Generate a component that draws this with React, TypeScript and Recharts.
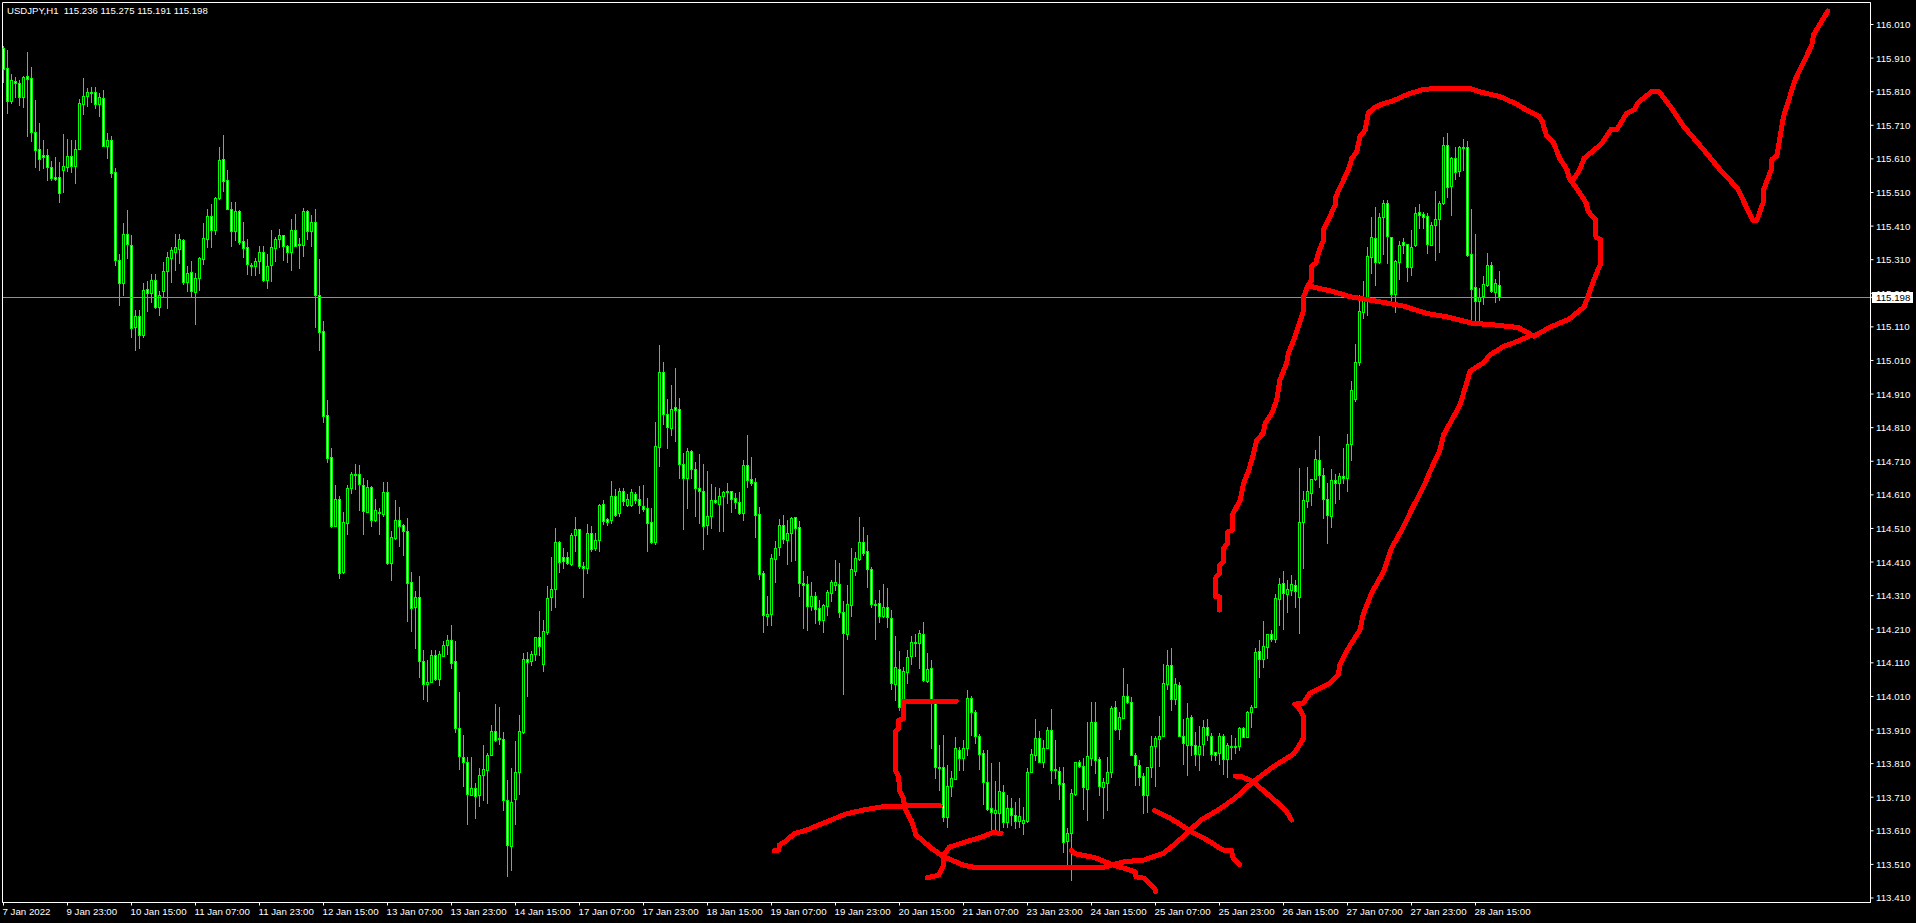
import React from "react";
import { ComposedChart, XAxis, YAxis, Bar, Line, ReferenceLine, ReferenceArea } from "recharts";

const symbolTitle = "USDJPY,H1  115.236 115.275 115.191 115.198";
const lastPrice = 115.198;

const opens = [
115.939,115.880,115.782,115.841,115.835,115.795,115.857,115.850,115.689,115.639,
115.621,115.621,115.585,115.555,115.555,115.578,115.587,115.618,115.590,115.639,
115.774,115.798,115.808,115.808,115.774,115.790,115.649,115.665,115.570,115.310,
115.241,115.386,115.353,115.109,115.143,115.086,115.222,115.212,115.249,115.168,
115.218,115.275,115.316,115.334,115.343,115.369,115.245,115.274,115.215,115.254,
115.313,115.373,115.439,115.397,115.495,115.609,115.546,115.462,115.394,115.454,
115.365,115.347,115.294,115.292,115.307,115.332,115.250,115.295,115.346,115.372,
115.383,115.352,115.334,115.398,115.356,115.354,115.454,115.394,115.423,115.204,
115.097,114.847,114.724,114.517,114.597,114.380,114.525,114.629,114.671,114.671,
114.638,114.560,114.632,114.536,114.560,114.552,114.618,114.406,114.483,114.534,
114.519,114.501,114.350,114.276,114.305,114.114,114.048,114.054,114.132,114.062,
114.131,114.163,114.177,114.114,113.917,113.831,113.816,113.718,113.738,113.717,
113.777,113.791,113.837,113.906,113.885,113.882,113.702,113.566,113.705,113.786,
113.903,114.121,114.114,114.135,114.186,114.107,114.203,114.306,114.329,114.469,
114.424,114.424,114.404,114.489,114.508,114.397,114.393,114.495,114.452,114.475,
114.583,114.539,114.535,114.606,114.555,114.620,114.580,114.580,114.612,114.598,
114.576,114.571,114.528,114.470,114.752,114.975,114.852,114.810,114.871,114.867,
114.703,114.661,114.742,114.686,114.629,114.620,114.520,114.546,114.595,114.584,
114.607,114.620,114.620,114.600,114.589,114.555,114.698,114.657,114.647,114.552,
114.377,114.248,114.256,114.420,114.454,114.519,114.476,114.496,114.543,114.513,
114.347,114.344,114.280,114.308,114.272,114.236,114.280,114.319,114.342,114.344,
114.260,114.197,114.283,114.384,114.419,114.469,114.442,114.388,114.284,114.287,
114.250,114.275,114.243,114.048,114.093,113.980,114.084,114.129,114.171,114.170,
114.195,114.057,114.094,113.990,113.799,113.799,113.650,113.744,113.765,113.851,
113.828,113.856,114.004,113.963,113.892,113.841,113.756,113.677,113.664,113.664,
113.726,113.637,113.677,113.657,113.639,113.632,113.640,113.786,113.837,113.887,
113.816,113.857,113.909,113.793,113.787,113.751,113.581,113.602,113.719,113.814,
113.802,113.735,113.828,113.933,113.824,113.739,113.753,113.786,113.978,113.914,
113.947,114.011,113.992,113.837,113.805,113.773,113.718,113.799,113.862,113.882,
113.893,114.048,114.103,114.003,114.043,113.893,113.866,113.948,113.866,113.838,
113.868,113.918,113.893,113.844,113.841,113.891,113.823,113.861,113.862,113.863,
113.917,113.890,113.965,113.980,114.145,114.122,114.158,114.195,114.181,114.301,
114.349,114.316,114.327,114.343,114.307,114.530,114.592,114.616,114.656,114.715,
114.669,114.599,114.548,114.654,114.646,114.665,114.659,114.760,114.894,115.005,
115.155,115.200,115.319,115.374,115.304,115.438,115.478,115.377,115.209,115.304,
115.362,115.357,115.289,115.353,115.451,115.445,115.439,115.354,115.414,115.430,
115.478,115.650,115.530,115.612,115.574,115.644,115.644,115.326,115.228,115.188,
115.203,115.235,115.293,115.215,115.236];

const closes = [
115.878,115.783,115.845,115.835,115.795,115.853,115.849,115.691,115.635,115.609,
115.615,115.585,115.554,115.551,115.508,115.588,115.618,115.590,115.639,115.775,
115.798,115.808,115.807,115.774,115.793,115.649,115.665,115.569,115.308,115.240,
115.386,115.356,115.108,115.143,115.086,115.219,115.212,115.249,115.170,115.204,
115.276,115.317,115.338,115.347,115.371,115.244,115.270,115.218,115.255,115.314,
115.374,115.439,115.399,115.493,115.606,115.545,115.462,115.394,115.454,115.364,
115.346,115.296,115.292,115.306,115.332,115.249,115.290,115.347,115.372,115.383,
115.352,115.334,115.398,115.352,115.355,115.454,115.394,115.423,115.205,115.096,
114.844,114.721,114.517,114.597,114.378,114.528,114.629,114.671,114.669,114.641,
114.563,114.632,114.536,114.564,114.557,114.618,114.406,114.484,114.534,114.517,
114.501,114.349,114.274,114.305,114.116,114.048,114.054,114.132,114.061,114.135,
114.164,114.177,114.110,113.917,113.833,113.816,113.720,113.736,113.714,113.777,
113.793,113.835,113.906,113.880,113.882,113.702,113.568,113.695,113.786,113.906,
114.121,114.112,114.135,114.186,114.161,114.206,114.304,114.329,114.469,114.409,
114.412,114.406,114.489,114.508,114.397,114.393,114.495,114.449,114.475,114.579,
114.533,114.529,114.607,114.550,114.621,114.591,114.597,114.618,114.596,114.580,
114.568,114.527,114.470,114.754,114.975,114.852,114.813,114.867,114.864,114.703,
114.659,114.742,114.686,114.629,114.620,114.518,114.547,114.595,114.588,114.607,
114.619,114.619,114.599,114.589,114.555,114.698,114.653,114.644,114.551,114.373,
114.251,114.255,114.421,114.451,114.519,114.478,114.496,114.540,114.512,114.347,
114.343,114.280,114.308,114.271,114.236,114.281,114.320,114.350,114.350,114.262,
114.200,114.284,114.388,114.421,114.469,114.437,114.390,114.285,114.282,114.248,
114.275,114.245,114.051,114.097,113.980,114.085,114.127,114.171,114.170,114.198,
114.059,114.091,113.990,113.799,113.798,113.652,113.743,113.766,113.856,113.828,
113.856,114.004,113.965,113.893,113.839,113.756,113.674,113.667,113.671,113.728,
113.637,113.677,113.658,113.639,113.654,113.643,113.784,113.838,113.887,113.816,
113.857,113.909,113.792,113.791,113.750,113.578,113.603,113.722,113.814,113.804,
113.739,113.832,113.933,113.821,113.742,113.754,113.784,113.975,113.912,113.948,
114.011,113.992,113.837,113.805,113.771,113.718,113.799,113.861,113.886,113.893,
114.049,114.103,114.001,114.046,113.893,113.872,113.947,113.865,113.838,113.863,
113.918,113.896,113.840,113.837,113.891,113.823,113.865,113.859,113.859,113.917,
113.890,113.963,113.980,114.141,114.122,114.160,114.195,114.182,114.302,114.346,
114.319,114.331,114.346,114.325,114.528,114.594,114.620,114.656,114.718,114.670,
114.598,114.549,114.653,114.646,114.665,114.661,114.760,114.922,115.005,115.156,
115.200,115.321,115.377,115.302,115.436,115.478,115.379,115.209,115.306,115.354,
115.355,115.289,115.347,115.448,115.442,115.438,115.356,115.412,115.430,115.478,
115.650,115.527,115.612,115.572,115.644,115.641,115.324,115.224,115.186,115.200,
115.237,115.293,115.216,115.240,115.198];

const highs = [
115.946,115.934,115.863,115.853,115.845,115.857,115.928,115.883,115.785,115.716,
115.666,115.640,115.603,115.615,115.600,115.683,115.669,115.666,115.666,115.787,
115.850,115.821,115.823,115.823,115.807,115.815,115.686,115.678,115.582,115.327,
115.418,115.458,115.383,115.160,115.160,115.240,115.247,115.268,115.267,115.217,
115.303,115.334,115.349,115.387,115.387,115.371,115.291,115.306,115.270,115.319,
115.418,115.460,115.476,115.498,115.645,115.681,115.577,115.483,115.483,115.458,
115.422,115.371,115.301,115.314,115.351,115.351,115.327,115.399,115.377,115.400,
115.384,115.354,115.431,115.446,115.376,115.463,115.458,115.443,115.460,115.311,
115.128,114.892,114.749,114.638,114.606,114.560,114.638,114.678,114.701,114.698,
114.661,114.653,114.635,114.598,114.572,114.648,114.648,114.503,114.595,114.573,
114.524,114.540,114.381,114.323,114.367,114.148,114.117,114.149,114.148,114.146,
114.175,114.192,114.224,114.175,114.023,113.894,113.831,113.831,113.751,113.797,
113.865,113.843,113.926,113.986,113.980,113.903,113.760,113.797,113.877,113.955,
114.138,114.143,114.144,114.188,114.264,114.238,114.338,114.424,114.510,114.472,
114.452,114.441,114.495,114.544,114.509,114.409,114.524,114.518,114.495,114.583,
114.595,114.541,114.650,114.627,114.630,114.630,114.613,114.627,114.619,114.635,
114.638,114.600,114.570,114.827,115.056,115.005,114.896,114.936,114.987,114.898,
114.736,114.749,114.744,114.707,114.732,114.701,114.681,114.642,114.632,114.629,
114.621,114.644,114.621,114.615,114.618,114.713,114.787,114.722,114.659,114.573,
114.383,114.309,114.433,114.473,114.538,114.550,114.535,114.543,114.545,114.532,
114.383,114.369,114.351,114.321,114.297,114.284,114.327,114.357,114.416,114.406,
114.294,114.342,114.453,114.440,114.543,114.513,114.491,114.394,114.297,114.327,
114.345,114.333,114.267,114.190,114.145,114.097,114.148,114.190,114.196,114.208,
114.232,114.138,114.119,113.995,113.865,113.895,113.806,113.788,113.888,113.859,
113.880,114.029,114.011,113.970,113.898,113.851,113.851,113.811,113.758,113.814,
113.746,113.717,113.707,113.695,113.707,113.682,113.796,113.853,113.942,113.907,
113.880,113.920,113.972,113.880,113.801,113.799,113.617,113.733,113.816,113.821,
113.826,113.933,113.993,113.994,113.831,113.766,113.829,113.982,113.996,113.965,
114.094,114.047,114.009,113.843,113.821,113.781,113.801,113.892,113.892,113.952,
114.107,114.148,114.153,114.064,114.054,113.943,113.990,113.955,113.905,113.922,
113.940,113.942,113.900,113.846,113.900,113.897,113.870,113.895,113.885,113.918,
113.920,113.968,113.985,114.153,114.178,114.234,114.195,114.208,114.314,114.363,
114.382,114.358,114.371,114.356,114.689,114.621,114.694,114.656,114.743,114.785,
114.689,114.646,114.687,114.672,114.674,114.748,114.791,114.950,115.059,115.205,
115.247,115.347,115.438,115.468,115.450,115.488,115.488,115.377,115.309,115.366,
115.374,115.357,115.398,115.466,115.475,115.453,115.448,115.423,115.514,115.485,
115.674,115.686,115.615,115.646,115.648,115.669,115.663,115.461,115.385,115.225,
115.262,115.329,115.302,115.253,115.275];

const lows = [
115.840,115.748,115.777,115.795,115.771,115.763,115.678,115.663,115.587,115.577,
115.582,115.547,115.547,115.547,115.483,115.510,115.574,115.572,115.539,115.638,
115.744,115.766,115.780,115.761,115.739,115.648,115.614,115.557,115.294,115.175,
115.205,115.314,115.081,115.041,115.046,115.081,115.157,115.185,115.165,115.146,
115.200,115.167,115.245,115.280,115.299,115.238,115.218,115.198,115.119,115.220,
115.297,115.349,115.349,115.387,115.490,115.513,115.460,115.351,115.369,115.357,
115.319,115.268,115.265,115.265,115.270,115.248,115.227,115.248,115.307,115.349,
115.309,115.302,115.280,115.351,115.286,115.321,115.371,115.351,115.111,115.041,
114.827,114.709,114.515,114.516,114.363,114.377,114.492,114.615,114.627,114.564,
114.492,114.558,114.518,114.533,114.492,114.547,114.405,114.358,114.480,114.457,
114.430,114.234,114.206,114.155,114.068,114.002,113.995,114.052,114.060,114.045,
114.129,114.137,114.094,113.903,113.795,113.743,113.631,113.717,113.648,113.685,
113.703,113.693,113.835,113.877,113.869,113.673,113.476,113.493,113.631,113.719,
113.902,114.012,114.105,114.117,114.132,114.086,114.197,114.268,114.276,114.381,
114.392,114.404,114.400,114.444,114.392,114.306,114.377,114.444,114.447,114.444,
114.524,114.520,114.526,114.547,114.547,114.581,114.578,114.578,114.587,114.556,
114.562,114.444,114.467,114.465,114.695,114.821,114.749,114.787,114.770,114.661,
114.507,114.572,114.661,114.547,114.526,114.449,114.492,114.512,114.587,114.503,
114.503,114.587,114.560,114.570,114.552,114.535,114.633,114.638,114.484,114.361,
114.203,114.223,114.223,114.352,114.431,114.468,114.404,114.414,114.416,114.309,
114.214,114.208,114.267,114.228,114.226,114.203,114.253,114.295,114.327,114.245,
114.017,114.181,114.250,114.370,114.416,114.431,114.335,114.277,114.181,114.233,
114.246,114.218,114.032,113.998,113.970,113.970,114.049,114.107,114.129,114.096,
114.056,114.054,113.855,113.766,113.732,113.640,113.622,113.714,113.764,113.791,
113.791,113.836,113.895,113.870,113.794,113.690,113.672,113.603,113.608,113.610,
113.622,113.622,113.627,113.619,113.622,113.601,113.637,113.784,113.821,113.815,
113.801,113.856,113.753,113.766,113.705,113.548,113.508,113.464,113.717,113.801,
113.675,113.642,113.806,113.781,113.717,113.649,113.672,113.771,113.910,113.883,
113.945,113.990,113.836,113.745,113.746,113.664,113.667,113.771,113.742,113.804,
113.892,114.032,113.970,113.988,113.892,113.809,113.776,113.836,113.806,113.791,
113.836,113.880,113.821,113.821,113.808,113.779,113.771,113.824,113.841,113.851,
113.888,113.888,113.918,113.978,114.069,114.098,114.125,114.176,114.173,114.222,
114.210,114.262,114.312,114.277,114.198,114.393,114.575,114.580,114.654,114.632,
114.542,114.467,114.515,114.586,114.599,114.644,114.622,114.715,114.889,114.997,
115.135,115.145,115.271,115.234,115.301,115.327,115.301,115.180,115.155,115.253,
115.329,115.247,115.265,115.351,115.405,115.403,115.331,115.353,115.309,115.334,
115.476,115.496,115.443,115.550,115.559,115.577,115.322,115.131,115.126,115.126,
115.177,115.233,115.213,115.185,115.191];

const timeLabels = ["7 Jan 2022","9 Jan 23:00","10 Jan 15:00","11 Jan 07:00","11 Jan 23:00","12 Jan 15:00","13 Jan 07:00","13 Jan 23:00","14 Jan 15:00","17 Jan 07:00","17 Jan 23:00","18 Jan 15:00","19 Jan 07:00","19 Jan 23:00","20 Jan 15:00","21 Jan 07:00","23 Jan 23:00","24 Jan 15:00","25 Jan 07:00","25 Jan 23:00","26 Jan 15:00","27 Jan 07:00","27 Jan 23:00","28 Jan 15:00"];
const barsPerLabel = 16;

const priceTicks = [116.01,115.91,115.81,115.71,115.61,115.51,115.41,115.31,115.21,115.11,115.01,114.91,114.81,114.71,114.61,114.51,114.41,114.31,114.21,114.11,114.01,113.91,113.81,113.71,113.61,113.51,113.41];

// Hand-drawn annotations: [bar position, price]
const smileLeftArm = [[192.7,113.551],[193.8,113.553],[194.0,113.568],[195.8,113.581],[197.6,113.601],[200.7,113.612],[205.2,113.634],[210.6,113.660],[215.0,113.672],[219.5,113.681],[224.9,113.684],[234.2,113.684]];
const channelLower = [[238.2,113.996],[224.9,113.996],[225.0,113.945],[223.8,113.938],[223.8,113.915],[222.9,113.905],[222.9,113.791],[223.8,113.771],[224.0,113.731],[225.0,113.707],[225.3,113.677],[227.1,113.637],[228.1,113.598],[232.0,113.558],[234.7,113.535],[237.4,113.521],[240.0,113.508],[242.7,113.501],[274.9,113.501],[280.2,113.518],[285.1,113.523],[290.0,113.543],[293.1,113.573],[296.7,113.612],[299.1,113.640],[303.9,113.674],[307.9,113.707],[312.4,113.756],[317.7,113.803],[322.6,113.839],[325.0,113.885],[325.0,113.950],[323.9,113.975],[322.8,113.987],[324.9,113.990],[326.6,114.019],[329.1,114.034],[331.6,114.049],[333.7,114.074],[334.1,114.104],[336.2,114.153],[339.1,114.208],[340.0,114.257],[342.0,114.317],[345.0,114.381],[347.0,114.451],[350.0,114.515],[352.0,114.565],[355.4,114.644],[356.6,114.679],[359.1,114.743],[360.0,114.788],[364.1,114.877],[365.8,114.943],[366.6,114.977],[368.3,114.991],[369.9,115.002],[371.6,115.026],[374.9,115.051],[378.3,115.066],[381.6,115.083],[383.1,115.086]];
const bigCircle = [[304.0,114.267],[304.0,114.306],[303.0,114.307],[303.0,114.362],[304.0,114.376],[304.1,114.401],[305.0,114.411],[305.0,114.451],[306.1,114.466],[306.1,114.500],[307.2,114.505],[307.2,114.550],[309.2,114.595],[310.0,114.644],[311.2,114.679],[312.1,114.714],[313.3,114.773],[314.9,114.793],[315.4,114.823],[317.1,114.853],[318.3,114.892],[319.1,114.952],[320.8,115.002],[321.2,115.031],[322.9,115.081],[324.0,115.121],[324.9,115.155],[324.9,115.195],[326.0,115.230],[327.1,115.250],[327.1,115.292],[328.1,115.299],[328.7,115.329],[330.0,115.369],[330.1,115.403],[331.6,115.438],[332.9,115.473],[333.1,115.498],[335.0,115.547],[336.2,115.577],[337.1,115.612],[338.3,115.631],[339.1,115.676],[340.4,115.696],[341.2,115.746],[342.5,115.761],[344.6,115.773],[347.4,115.783],[351.2,115.803],[355.1,115.817],[358.9,115.820],[366.5,115.820],[368.9,115.810],[374.2,115.795],[378.0,115.775],[380.4,115.758],[383.8,115.738],[384.7,115.721],[385.7,115.681],[387.6,115.656],[389.0,115.612],[390.9,115.577],[391.4,115.552],[393.3,115.522],[395.7,115.478],[396.2,115.453],[398.1,115.428],[398.1,115.378],[399.3,115.369],[399.3,115.299],[397.6,115.250],[395.2,115.170],[391.4,115.133],[386.6,115.109],[382.8,115.083]];
const necklineStroke = [[326.2,115.232],[332.5,115.215],[336.6,115.200],[342.5,115.188],[350.0,115.172],[355.8,115.150],[360.8,115.140],[367.1,115.121],[372.5,115.116],[378.7,115.108],[382.5,115.083]];
const forecastStroke = [[392.4,115.547],[393.8,115.572],[395.2,115.612],[399.6,115.656],[401.9,115.698],[403.4,115.698],[405.8,115.746],[407.7,115.756],[408.6,115.777],[412.0,115.810],[413.9,115.810],[417.3,115.756],[420.1,115.706],[424.4,115.646],[429.2,115.577],[433.5,115.522],[437.3,115.428],[438.3,115.426],[440.0,115.483],[440.0,115.517],[441.9,115.577],[442.1,115.609],[443.3,115.617],[445.0,115.736],[447.9,115.845],[452.1,115.949],[452.5,115.979],[456.1,116.050]];
const shortCrossA = [[249.4,113.603],[247.1,113.604],[244.5,113.591],[240.0,113.575],[236.4,113.561],[234.9,113.535],[234.9,113.503],[233.8,113.478],[230.9,113.470]];
const shortCrossB = [[267.0,113.551],[268.1,113.541],[272.6,113.531],[277.5,113.508],[282.9,113.488],[283.1,113.473],[285.1,113.469],[287.8,113.439],[288.0,113.429]];
const shortCrossC = [[287.8,113.670],[291.8,113.647],[296.7,113.609],[301.6,113.578],[304.8,113.553],[307.0,113.551],[307.4,113.528],[309.0,113.510]];
const shortCrossD = [[307.9,113.773],[309.6,113.771],[312.4,113.756],[317.7,113.702],[320.8,113.667],[322.0,113.642]];
const strokes = [smileLeftArm, channelLower, bigCircle, necklineStroke, forecastStroke, shortCrossA, shortCrossB, shortCrossC, shortCrossD];

const candles = opens.map((open, i) => ({ x: i, open, high: highs[i], low: lows[i], close: closes[i], range: [lows[i], highs[i]] }));
const xTicks = timeLabels.map((_, i) => i * barsPerLabel);
const FONT = "'Liberation Sans', sans-serif";
const X_DOMAIN: [number, number] = [-0.25, 466.75];
const Y_DOMAIN: [number, number] = [113.3966, 116.0755];

function CandleShape(props: any) {
  const { x, y, width, height, payload } = props;
  const { open, close, high, low } = payload;
  const cx = Math.round(x + width / 2 - 0.5) + 0.5;
  const k = height / (high - low);
  const top = Math.max(open, close);
  const bottom = Math.min(open, close);
  const yHigh = Math.round(y);
  const yLow = Math.round(y + height);
  const yTop = Math.round(y + (high - top) * k);
  const yBottom = Math.round(y + (high - bottom) * k);
  const bear = close < open;
  return (
    <g shapeRendering="crispEdges">
      <line x1={cx} x2={cx} y1={yHigh} y2={yLow + 1} stroke="#00ff00" strokeWidth={1} />
      {yBottom - yTop >= 1 ? (
        <rect x={cx - 1} y={yTop + 0.5} width={2} height={yBottom - yTop} fill={bear ? "#ffffff" : "#000000"} stroke="#00ff00" strokeWidth={1} />
      ) : (
        <line x1={cx - 1.5} x2={cx + 1.5} y1={yTop + 0.5} y2={yTop + 0.5} stroke="#00ff00" strokeWidth={1} />
      )}
    </g>
  );
}

function TimeTick(props: any) {
  const { x, payload } = props;
  const label = timeLabels[Math.round(payload.value / barsPerLabel)];
  return (
    <text x={x - 1} y={915} fill="#ffffff" fontSize={9.7} fontFamily={FONT} textAnchor="start">{label}</text>
  );
}

function PriceTick(props: any) {
  const { y, payload } = props;
  const isLast = payload.value === lastPrice;
  return (
    <g>
      {isLast ? <rect x={1872} y={292} width={41} height={11} fill="#ffffff" /> : null}
      <text x={1876} y={y + 3.5} fill={isLast ? "#000000" : "#ffffff"} fontSize={9.7} fontFamily={FONT} textAnchor="start">{payload.value.toFixed(3)}</text>
    </g>
  );
}

export default function App() {
  return (
    <div style={{ position: "absolute", left: 0, top: 0, width: 1916, height: 923, background: "#000000", overflow: "hidden" }}>
      <ComposedChart width={1916} height={923} data={candles} margin={{ top: 2.5, left: 2.5, right: 0, bottom: 0 }} barCategoryGap={0}>
        <XAxis dataKey="x" type="number" domain={X_DOMAIN} ticks={xTicks} interval={0} height={20.5} stroke="#ffffff" tickSize={3} tick={<TimeTick />} allowDataOverflow />
        <YAxis type="number" orientation="right" domain={Y_DOMAIN} ticks={[...priceTicks, lastPrice]} interval={0} width={45.5} stroke="#ffffff" tickSize={3} tick={<PriceTick />} allowDataOverflow />
        <ReferenceArea x1={X_DOMAIN[0]} x2={X_DOMAIN[1]} y1={Y_DOMAIN[0]} y2={Y_DOMAIN[1]} fill="none" stroke="#ffffff" strokeWidth={1} ifOverflow="visible" />
        <ReferenceLine y={lastPrice} stroke="#8a909a" strokeWidth={1} shapeRendering="crispEdges" ifOverflow="visible" />
        <Bar dataKey="range" barSize={3} shape={<CandleShape />} isAnimationActive={false} />
        {strokes.map((points, i) => (
          <Line
            key={i}
            data={points.map(([bar, price]) => ({ x: bar, price }))}
            dataKey="price"
            type="linear"
            stroke="#ff0000"
            strokeWidth={5}
            strokeLinecap="round"
            strokeLinejoin="round"
            shapeRendering="crispEdges"
            dot={false}
            activeDot={false}
            isAnimationActive={false}
            legendType="none"
          />
        ))}
        <text x={7} y={14} fill="#ffffff" fontSize={9.6} fontFamily={FONT} style={{ whiteSpace: "pre" }}>{symbolTitle}</text>
      </ComposedChart>
    </div>
  );
}
